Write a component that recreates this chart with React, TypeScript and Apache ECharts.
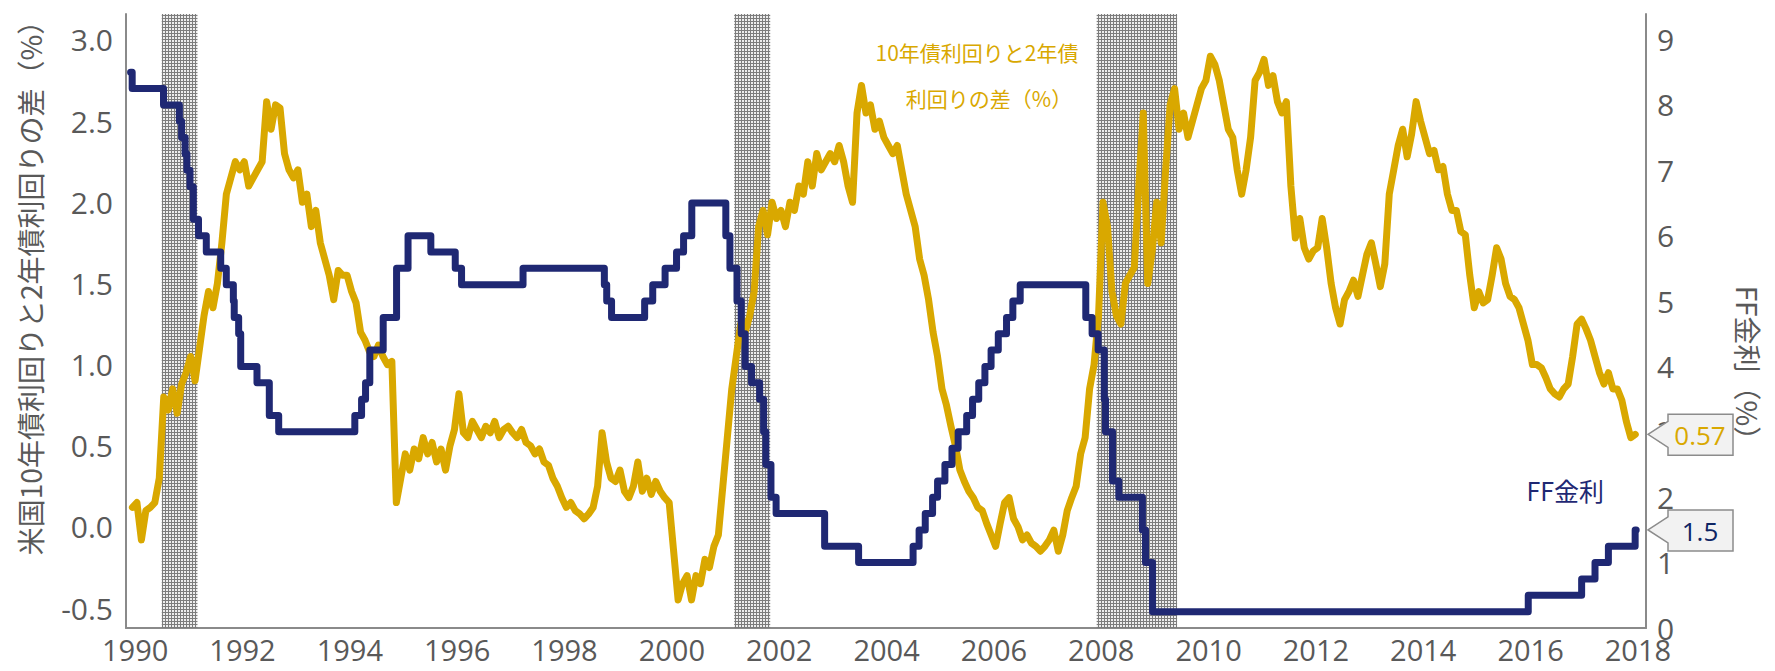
import React, { useEffect, useRef } from "react";
import * as echarts from "echarts";

// ---------- data ----------
const xTickYears = [1990, 1992, 1994, 1996, 1998, 2000, 2002, 2004, 2006, 2008, 2010, 2012, 2014, 2016, 2018];
const leftTicks = [-0.5, 0, 0.5, 1, 1.5, 2, 2.5, 3];
const rightTicks = [0, 1, 2, 3, 4, 5, 6, 7, 8, 9];

// 10y - 2y spread (%), monthly, first point at spreadStart
const spreadStart = 1989.95;
const spread1990 = [0.12, 0.15, -0.08, 0.10, 0.12, 0.15, 0.30, 0.80, 0.72, 0.85, 0.70, 0.88];
const spread1991 = [0.95, 1.05, 0.90, 1.10, 1.30, 1.45, 1.35, 1.50, 1.75, 2.05, 2.15, 2.25];
const spread1992 = [2.20, 2.25, 2.10, 2.15, 2.20, 2.25, 2.62, 2.45, 2.60, 2.58, 2.30, 2.20];
const spread1993 = [2.15, 2.20, 2.00, 2.05, 1.85, 1.95, 1.75, 1.65, 1.55, 1.40, 1.58, 1.55];
const spread1994 = [1.55, 1.45, 1.38, 1.20, 1.15, 1.08, 1.05, 1.12, 1.05, 1.00, 1.02, 0.15];
const spread1995 = [0.30, 0.45, 0.35, 0.48, 0.42, 0.55, 0.45, 0.52, 0.40, 0.48, 0.35, 0.50];
const spread1996 = [0.60, 0.82, 0.58, 0.55, 0.65, 0.60, 0.55, 0.62, 0.58, 0.65, 0.55, 0.60];
const spread1997 = [0.62, 0.58, 0.55, 0.60, 0.52, 0.50, 0.45, 0.48, 0.40, 0.38, 0.30, 0.25];
const spread1998 = [0.18, 0.12, 0.15, 0.10, 0.08, 0.05, 0.08, 0.12, 0.25, 0.58, 0.40, 0.30];
const spread1999 = [0.28, 0.35, 0.22, 0.18, 0.25, 0.40, 0.22, 0.30, 0.20, 0.28, 0.22, 0.18];
const spread2000 = [0.15, -0.15, -0.45, -0.35, -0.30, -0.45, -0.30, -0.35, -0.20, -0.25, -0.12, -0.05];
const spread2001 = [0.25, 0.55, 0.85, 1.05, 1.25, 1.20, 1.30, 1.45, 1.85, 1.95, 1.80, 2.00];
const spread2002 = [1.90, 1.95, 1.85, 2.00, 1.95, 2.10, 2.05, 2.25, 2.10, 2.30, 2.20, 2.25];
const spread2003 = [2.30, 2.25, 2.35, 2.25, 2.10, 2.00, 2.55, 2.72, 2.55, 2.60, 2.45, 2.50];
const spread2004 = [2.40, 2.35, 2.30, 2.35, 2.20, 2.05, 1.95, 1.85, 1.65, 1.55, 1.40, 1.20];
const spread2005 = [1.05, 0.85, 0.75, 0.62, 0.50, 0.35, 0.28, 0.22, 0.18, 0.12, 0.10, 0.02];
const spread2006 = [-0.05, -0.12, 0.02, 0.15, 0.18, 0.05, 0.00, -0.08, -0.05, -0.10, -0.12, -0.15];
const spread2007 = [-0.12, -0.08, -0.02, -0.15, -0.05, 0.10, 0.18, 0.25, 0.45, 0.55, 0.85, 1.00];
const spread2008 = [1.30, 2.00, 1.85, 1.45, 1.30, 1.25, 1.50, 1.55, 1.60, 2.10, 2.55, 1.50];
const spread2009 = [1.70, 2.00, 1.75, 2.20, 2.60, 2.70, 2.45, 2.55, 2.40, 2.50, 2.60, 2.70];
const spread2010 = [2.75, 2.90, 2.85, 2.75, 2.60, 2.45, 2.40, 2.20, 2.05, 2.20, 2.40, 2.75];
const spread2011 = [2.80, 2.88, 2.72, 2.78, 2.62, 2.55, 2.62, 2.10, 1.78, 1.90, 1.72, 1.65];
const spread2012 = [1.70, 1.72, 1.90, 1.72, 1.50, 1.35, 1.25, 1.40, 1.45, 1.52, 1.42, 1.55];
const spread2013 = [1.68, 1.75, 1.62, 1.48, 1.62, 2.05, 2.20, 2.35, 2.45, 2.28, 2.42, 2.62];
const spread2014 = [2.50, 2.40, 2.30, 2.32, 2.20, 2.22, 2.05, 1.95, 1.95, 1.82, 1.80, 1.55];
const spread2015 = [1.35, 1.45, 1.38, 1.40, 1.55, 1.72, 1.65, 1.50, 1.42, 1.40, 1.35, 1.25];
const spread2016 = [1.15, 1.00, 1.00, 0.98, 0.92, 0.85, 0.82, 0.80, 0.85, 0.88, 1.05, 1.25];
const spread2017 = [1.28, 1.22, 1.15, 1.05, 0.95, 0.88, 0.95, 0.85, 0.85, 0.78, 0.65, 0.55];
const spread2018 = [0.57];

// FF rate target changes (date, new level %)
const ffDates = [
  "1989-12-01", "1989-12-12", "1990-07-13", "1990-10-29", "1990-11-13", "1990-12-07", "1990-12-19",
  "1991-01-09", "1991-02-01", "1991-03-08", "1991-04-30", "1991-08-06", "1991-09-13", "1991-10-31",
  "1991-11-06", "1991-12-06", "1991-12-20", "1992-04-09", "1992-07-02", "1992-09-04", "1994-02-04",
  "1994-03-22", "1994-04-18", "1994-05-17", "1994-08-16", "1994-11-15", "1995-02-01", "1995-07-06",
  "1995-12-19", "1996-01-31", "1997-03-25", "1998-09-29", "1998-10-15", "1998-11-17", "1999-06-30",
  "1999-08-24", "1999-11-16", "2000-02-02", "2000-03-21", "2000-05-16", "2001-01-03", "2001-01-31",
  "2001-03-20", "2001-04-18", "2001-05-15", "2001-06-27", "2001-08-21", "2001-09-17", "2001-10-02",
  "2001-11-06", "2001-12-11", "2002-11-06", "2003-06-25", "2004-06-30", "2004-08-10", "2004-09-21",
  "2004-11-10", "2004-12-14", "2005-02-02", "2005-03-22", "2005-05-03", "2005-06-30", "2005-08-09",
  "2005-09-20", "2005-11-01", "2005-12-13", "2006-01-31", "2006-03-28", "2006-05-10", "2006-06-29",
  "2007-09-18", "2007-10-31", "2007-12-11", "2008-01-22", "2008-01-30", "2008-03-18", "2008-04-30",
  "2008-10-08", "2008-10-29", "2008-12-16", "2015-12-16", "2016-12-14", "2017-03-15", "2017-06-14",
  "2017-12-13", "2017-12-20",
];
const ffValues = [
  8.5, 8.25, 8.0, 7.75, 7.5, 7.25, 7.0,
  6.75, 6.25, 6.0, 5.75, 5.5, 5.25, 5.0,
  4.75, 4.5, 4.0, 3.75, 3.25, 3.0, 3.25,
  3.5, 3.75, 4.25, 4.75, 5.5, 6.0, 5.75,
  5.5, 5.25, 5.5, 5.25, 5.0, 4.75, 5.0,
  5.25, 5.5, 5.75, 6.0, 6.5, 6.0, 5.5,
  5.0, 4.5, 4.0, 3.75, 3.5, 3.0, 2.5,
  2.0, 1.75, 1.25, 1.0, 1.25, 1.5, 1.75,
  2.0, 2.25, 2.5, 2.75, 3.0, 3.25, 3.5,
  3.75, 4.0, 4.25, 4.5, 4.75, 5.0, 5.25,
  4.75, 4.5, 4.25, 3.5, 3.0, 2.25, 2.0,
  1.5, 1.0, 0.25, 0.5, 0.75, 1.0, 1.25,
  1.5, 1.5,
];

// US recessions (shaded)
const recessionStarts = ["1990-07-01", "2001-03-01", "2007-12-01"];
const recessionEnds = ["1991-03-01", "2001-11-01", "2009-06-01"];

const spreadLabelLines = ["10年債利回りと2年債", "利回りの差（%）"];
const ffLabel = "FF金利";
const leftTitle = "米国10年債利回りと2年債利回りの差（%）";
const rightTitle = "FF金利（%）";

// ---------- styling ----------
const YELLOW = "#D9A800";
const NAVY = "#1F2873";
const AXIS_GREY = "#8A8A8A";
const LABEL_GREY = "#595959";
const X_MIN = 1989.83;
const X_MAX = 2018.15;

function toYear(s: string): number {
  const [y, m, d] = s.split("-").map(Number);
  const start = Date.UTC(y, 0, 1);
  const end = Date.UTC(y + 1, 0, 1);
  return y + (Date.UTC(y, m - 1, d) - start) / (end - start);
}

function makeHatch(): string {
  const c = document.createElement("canvas");
  c.width = 3;
  c.height = 3;
  const g = c.getContext("2d");
  if (!g) return "";
  g.fillStyle = "#ededed";
  g.fillRect(0, 0, 3, 3);
  g.fillStyle = "#7c7c7c";
  g.fillRect(0, 0, 3, 1);
  g.fillRect(0, 0, 1, 3);
  return c.toDataURL();
}

export default function App() {
  const ref = useRef<HTMLDivElement>(null);

  useEffect(() => {
    if (!ref.current) return;
    const chart = echarts.init(ref.current, undefined, { renderer: "svg" });

    const spreadValues = [
      ...spread1990, ...spread1991, ...spread1992, ...spread1993, ...spread1994, ...spread1995,
      ...spread1996, ...spread1997, ...spread1998, ...spread1999, ...spread2000, ...spread2001,
      ...spread2002, ...spread2003, ...spread2004, ...spread2005, ...spread2006, ...spread2007,
      ...spread2008, ...spread2009, ...spread2010, ...spread2011, ...spread2012, ...spread2013,
      ...spread2014, ...spread2015, ...spread2016, ...spread2017, ...spread2018,
    ];
    const spreadData = spreadValues.map((v, i) => [spreadStart + i / 12, v]);
    const ffData = ffDates.map((d, i) => [toYear(d), ffValues[i]]);
    const hatch = makeHatch();
    const areaColor: any = hatch ? { image: hatch, repeat: "repeat" } : "#a8a8a8";

    const labelStyle = { color: LABEL_GREY, fontSize: 29, lineHeight: 29, fontFamily: "Open Sans" };

    const option: any = {
      animation: false,
      tooltip: { show: false },
      grid: { left: 126, right: 129, top: 14, bottom: 43, containLabel: false },
      xAxis: {
        type: "value",
        min: X_MIN,
        max: X_MAX,
        axisLine: { show: true, onZero: false, lineStyle: { color: AXIS_GREY, width: 2 } },
        axisTick: { show: false },
        splitLine: { show: false },
        axisLabel: {
          ...labelStyle,
          customValues: xTickYears,
          margin: 7,
          formatter: (v: number) => String(Math.round(v)),
        },
      },
      yAxis: [
        {
          type: "value",
          position: "left",
          min: -0.623,
          max: 3.16,
          axisLine: { show: true, lineStyle: { color: AXIS_GREY, width: 2 } },
          axisTick: { show: false },
          splitLine: { show: false },
          axisLabel: {
            ...labelStyle,
            fontSize: 30,
            lineHeight: 30,
            customValues: leftTicks,
            margin: 13,
            formatter: (v: number) => v.toFixed(1),
          },
        },
        {
          type: "value",
          position: "right",
          min: 0,
          max: 9.39,
          axisLine: { show: true, lineStyle: { color: AXIS_GREY, width: 2 } },
          axisTick: { show: false },
          splitLine: { show: false },
          axisLabel: {
            ...labelStyle,
            fontSize: 30,
            lineHeight: 30,
            customValues: rightTicks,
            margin: 11,
            formatter: (v: number) => String(v),
          },
        },
      ],
      series: [
        {
          type: "line",
          name: "recession",
          data: [],
          silent: true,
          z: 1,
          markArea: {
            silent: true,
            itemStyle: { color: areaColor, opacity: 1, borderWidth: 0 },
            data: recessionStarts.map((s, i) => [{ xAxis: toYear(s) }, { xAxis: toYear(recessionEnds[i]) }]),
          },
        },
        {
          type: "line",
          name: "spread",
          yAxisIndex: 0,
          data: spreadData,
          symbol: "none",
          silent: true,
          z: 3,
          lineStyle: { color: YELLOW, width: 7, join: "round", cap: "round" },
        },
        {
          type: "line",
          name: "ff",
          yAxisIndex: 1,
          step: "end",
          data: ffData,
          symbol: "none",
          silent: true,
          z: 4,
          lineStyle: { color: NAVY, width: 7, join: "round", cap: "round" },
        },
      ],
    };
    chart.setOption(option);

    const axisX = chart.convertToPixel({ xAxisIndex: 0 } as any, X_MAX) as unknown as number;
    const lastSpread = spreadValues[spreadValues.length - 1];
    const lastFF = ffValues[ffValues.length - 1];
    const ySpread = chart.convertToPixel({ yAxisIndex: 0 } as any, lastSpread) as unknown as number;
    const yFF = chart.convertToPixel({ yAxisIndex: 1 } as any, lastFF) as unknown as number;

    const callout = (y: number, text: string, color: string) => [
      {
        type: "polygon",
        silent: true,
        z: 10,
        shape: {
          points: [
            [axisX + 2, y],
            [axisX + 22, y - 13],
            [axisX + 22, y - 20],
            [axisX + 87, y - 20],
            [axisX + 87, y + 21],
            [axisX + 22, y + 21],
            [axisX + 22, y + 13],
          ],
        },
        style: { fill: "#F2F2F2", stroke: "#8C8C8C", lineWidth: 1.5 },
      },
      {
        type: "text",
        silent: true,
        z: 11,
        x: axisX + 54,
        y: y + 1,
        style: {
          text,
          fill: color,
          fontSize: 26,
          fontFamily: "Open Sans",
          align: "center",
          verticalAlign: "middle",
          textAlign: "center",
          textVerticalAlign: "middle",
        },
      },
    ];

    const cjk = "'Noto Sans CJK JP', 'Noto Sans', sans-serif";
    const textEl = (x: number, y: number, text: string, color: string, size: number, align: string, rotation = 0) => ({
      type: "text",
      silent: true,
      z: 10,
      x,
      y,
      rotation,
      style: {
        text,
        fill: color,
        fontSize: size,
        fontFamily: cjk,
        align,
        verticalAlign: "middle",
        textAlign: align,
        textVerticalAlign: "middle",
      },
    });

    chart.setOption({
      graphic: {
        elements: [
          textEl(30, 281, leftTitle, LABEL_GREY, 28, "center", Math.PI / 2),
          textEl(1748, 370, rightTitle, LABEL_GREY, 28, "center", -Math.PI / 2),
          textEl(977, 52, spreadLabelLines[0], YELLOW, 21, "center"),
          textEl(989, 98, spreadLabelLines[1], YELLOW, 21, "center"),
          textEl(1604, 490, ffLabel, NAVY, 25, "right"),
          ...callout(ySpread, String(lastSpread), YELLOW),
          ...callout(yFF, String(lastFF), "#0E2564"),
        ],
      },
    });

    return () => {
      chart.dispose();
    };
  }, []);

  return (
    <div
      ref={ref}
      style={{ position: "absolute", left: 0, top: 0, width: 1775, height: 671, background: "#ffffff" }}
    />
  );
}
